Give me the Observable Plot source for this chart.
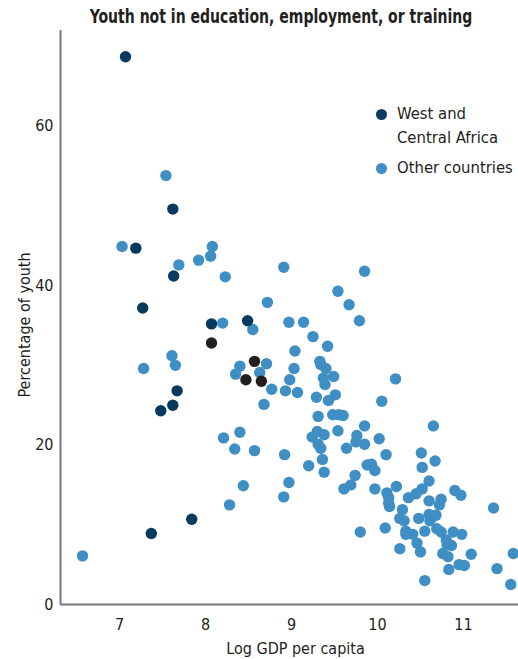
<!DOCTYPE html>
<html>
<head>
<meta charset="utf-8">
<script src="https://cdn.jsdelivr.net/npm/d3@7"></script>
<script src="https://cdn.jsdelivr.net/npm/@observablehq/plot@0.6"></script>
<style>
  html, body { margin: 0; padding: 0; background: #fff; }
  body { width: 518px; height: 659px; overflow: hidden; font-family: "DejaVu Sans Condensed", "Liberation Sans Narrow", sans-serif; font-stretch: condensed; }
  #wrap { position: relative; width: 518px; height: 659px; }
  #titlebar { height: 30px; position: relative; }
  #title { position: absolute; left: 0; width: 562px; top: 0; height: 30px; line-height: 33px; text-align: center; font-weight: bold; font-size: 19.5px; color: #231f20; transform: scaleX(0.80); transform-origin: 281px 50%; white-space: nowrap; }
  #legend { position: absolute; left: 376px; top: 102px; font-size: 16.5px; color: #231f20; line-height: 24px; white-space: nowrap; }
  .li { position: relative; padding-left: 21px; }
  .sw { position: absolute; left: 0; top: 7px; width: 11px; height: 11px; border-radius: 50%; }
  svg text { font-family: "DejaVu Sans Condensed", "Liberation Sans Narrow", sans-serif; }
</style>
</head>
<body>
<div id="wrap">
  <div id="titlebar"><div id="title">Youth not in education, employment, or training</div></div>
  <div id="chart"></div>
  <div id="legend"></div>
</div>
<script>
// ---- Data ----
const groups = ["West and Central Africa", "Other countries", "Highlighted"];
const groupColors = ["#073a5e", "#3f8fc4", "#231f20"];
const legendLabels = ["West and<br>Central Africa", "Other countries"];

const wcaGdp = [7.07, 7.62, 7.19, 7.63, 7.27, 8.07, 8.49, 7.67, 7.62, 7.48, 7.84, 7.37];
const wcaNeet = [68.7, 49.6, 44.7, 41.2, 37.2, 35.2, 35.6, 26.8, 25.0, 24.3, 10.7, 8.9];

const highlightGdp = [8.07, 8.57, 8.47, 8.65];
const highlightNeet = [32.8, 30.5, 28.2, 28.0];

const otherGdp = [
  7.54, 7.03, 8.08, 8.06, 7.92, 7.69, 8.23, 8.91, 8.72, 8.20, 8.55, 8.97,
  7.61, 7.28, 7.65, 8.71, 8.40, 8.63, 8.35, 8.77, 8.93, 8.98, 8.68,
  9.85, 9.54, 9.67, 9.79, 9.14, 9.25, 9.42, 9.04, 9.03, 9.33, 9.34, 9.40, 9.37, 9.49, 9.39, 9.07, 9.29, 9.51, 9.43, 10.21, 10.05,
  9.31, 9.48, 9.55, 9.60, 9.85, 9.30, 9.54, 9.24, 9.38, 9.76, 9.75, 9.85, 10.02, 9.31, 9.34, 9.64, 9.36, 9.20, 9.38, 10.10, 10.51, 9.88, 9.93, 9.97, 10.52, 10.67, 10.65,
  8.21, 8.40, 8.34, 8.57, 8.92, 8.44, 8.28, 6.57, 8.97, 8.91,
  9.74, 9.69, 9.61, 9.97, 10.11, 10.13, 10.13, 10.14, 10.22, 10.36, 10.45, 10.52, 10.60, 10.29, 10.26, 10.31, 10.48, 10.60, 10.74, 10.72, 10.90, 10.97,
  10.60, 10.63, 10.68, 10.61, 10.33, 10.33, 10.41, 10.55, 10.69, 10.74, 10.09, 9.80, 10.46, 10.50, 10.26,
  10.80, 10.81, 10.86, 10.76, 10.82, 10.88, 10.98, 11.09, 10.83, 10.95, 11.01, 10.55, 11.35, 11.39, 11.58, 11.55
];
const otherNeet = [
  53.8, 44.9, 44.9, 43.7, 43.2, 42.6, 41.1, 42.3, 37.9, 35.3, 34.5, 35.4,
  31.2, 29.6, 30.0, 30.2, 29.9, 29.1, 28.9, 27.0, 26.8, 28.2, 25.1,
  41.8, 39.3, 37.6, 35.6, 35.4, 33.6, 32.4, 31.8, 29.6, 30.5, 30.1, 29.6, 28.4, 28.6, 27.6, 26.6, 26.0, 26.3, 25.6, 28.3, 25.5,
  23.6, 23.8, 23.8, 23.7, 22.4, 21.7, 21.8, 21.0, 21.3, 21.2, 20.4, 20.1, 20.8, 20.1, 19.6, 19.6, 18.2, 17.4, 16.6, 18.8, 19.0, 17.5, 17.6, 16.8, 17.2, 18.0, 22.4,
  20.9, 21.6, 19.5, 19.3, 18.8, 14.9, 12.5, 6.1, 15.3, 13.5,
  16.2, 15.0, 14.5, 14.5, 14.0, 13.4, 12.7, 12.3, 14.8, 13.4, 13.9, 14.5, 15.5, 11.9, 10.8, 10.5, 10.8, 13.0, 13.2, 12.5, 14.3, 13.7,
  11.3, 10.9, 11.2, 10.5, 9.2, 8.8, 8.8, 9.2, 9.5, 9.1, 9.6, 9.1, 7.7, 6.6, 7.0,
  8.1, 7.5, 7.4, 6.4, 6.0, 9.1, 8.8, 6.3, 4.4, 5.0, 4.9, 3.0, 12.1, 4.5, 6.4, 2.5
];

const xTicks = [7, 8, 9, 10, 11];
const yTicks = [0, 20, 40, 60];
const xLabel = "Log GDP per capita";
const yLabel = "Percentage of youth";

// ---- Build table ----
const rows = [];
otherGdp.forEach((g, i) => rows.push({gdp: g, neet: otherNeet[i], group: groups[1]}));
wcaGdp.forEach((g, i) => rows.push({gdp: g, neet: wcaNeet[i], group: groups[0]}));
highlightGdp.forEach((g, i) => rows.push({gdp: g, neet: highlightNeet[i], group: groups[2]}));

const xDomain = [6.314, 11.64];
const yDomain = [0, 72];
const axisColor = "#7a7a7a";

const chart = Plot.plot({
  width: 518,
  height: 629,
  marginLeft: 60,
  marginRight: 0,
  marginTop: 0,
  marginBottom: 55,
  style: {fontSize: "16px", color: "#231f20", background: "#fff"},
  x: {domain: xDomain},
  y: {domain: yDomain},
  color: {domain: groups, range: groupColors},
  marks: [
    Plot.axisX({ticks: xTicks, tickFormat: d3.format("d"), tickSize: 0, tickPadding: 14, label: null, fontSize: 16}),
    Plot.axisY({ticks: yTicks, tickFormat: d3.format("d"), tickSize: 0, tickPadding: 7, label: null, fontSize: 16}),
    Plot.ruleX([xDomain[0]], {stroke: axisColor, strokeWidth: 2}),
    Plot.ruleY([0], {stroke: axisColor, strokeWidth: 2}),
    Plot.dot(rows, {x: "gdp", y: "neet", fill: "group", r: 5.7, stroke: null}),
    Plot.text([xLabel], {frameAnchor: "bottom", dy: 49, dx: 6, text: d => d, fontSize: 16, fill: "#231f20"}),
    Plot.text([yLabel], {frameAnchor: "left", dx: -36, dy: 80, rotate: -90, text: d => d, fontSize: 16, fill: "#231f20"})
  ]
});
document.getElementById("chart").appendChild(chart);

const legend = document.getElementById("legend");
legendLabels.forEach((lab, i) => {
  const d = document.createElement("div");
  d.className = "li";
  d.style.marginBottom = "6px";
  d.innerHTML = `<span class="sw" style="background:${groupColors[i]}"></span>${lab}`;
  legend.appendChild(d);
});
</script>
</body>
</html>
